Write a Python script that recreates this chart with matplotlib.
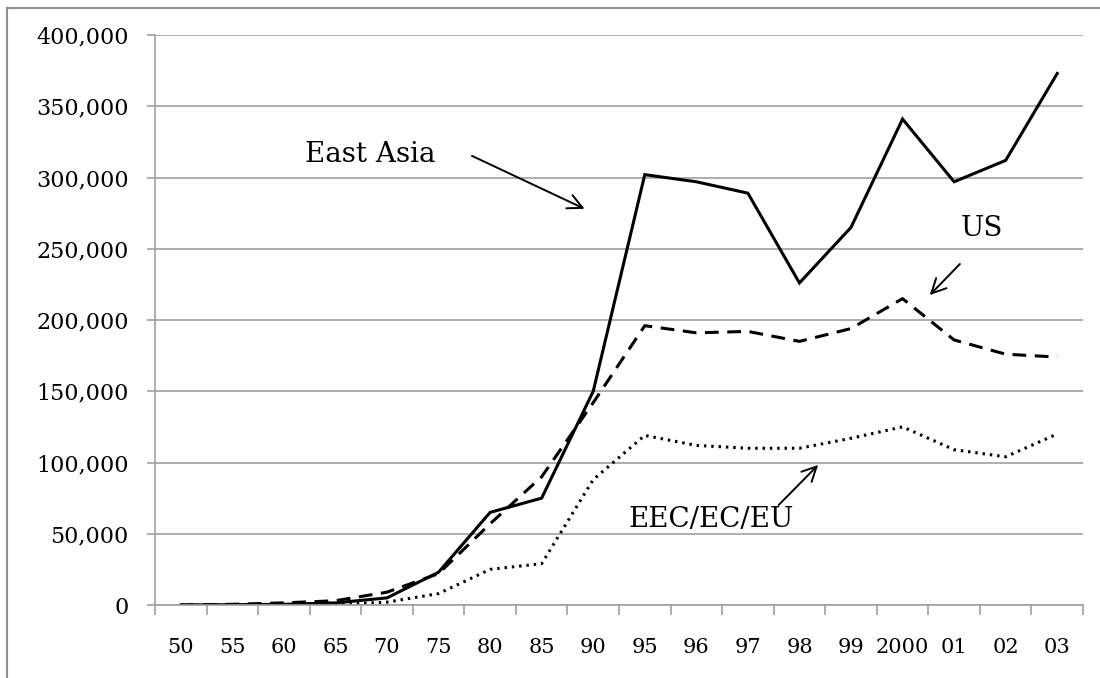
import matplotlib
matplotlib.use("Agg")
import matplotlib.pyplot as plt
from matplotlib.ticker import FuncFormatter, FixedLocator
from matplotlib.patches import Rectangle

categories = ["50", "55", "60", "65", "70", "75", "80", "85", "90", "95",
              "96", "97", "98", "99", "2000", "01", "02", "03"]
east_asia = [0, 200, 500, 1500, 5000, 23000, 65000, 75000, 150000, 302000,
             297000, 289000, 226000, 265000, 341000, 297000, 312000, 373000]
us = [0, 500, 1500, 3000, 9000, 22000, 57000, 90000, 142000, 196000,
      191000, 192000, 185000, 194000, 215000, 186000, 176000, 174000]
eu = [0, 0, 100, 500, 2000, 8000, 25000, 29000, 88000, 119000,
      112000, 110000, 110000, 117000, 125000, 109000, 104000, 120000]
yticks = [0, 50000, 100000, 150000, 200000, 250000, 300000, 350000, 400000]

plt.rcParams['font.family'] = ['DejaVu Serif']

fig = plt.figure(figsize=(11, 6.78), dpi=100)
W, H = 1100, 678
ax = fig.add_axes([155 / W, 1 - 605 / H, (1083 - 155) / W, (605 - 35) / H])

x = list(range(len(categories)))
ax.plot(x, east_asia, color='black', lw=2.2, solid_joinstyle='miter')
ax.plot(x, us, color='black', lw=2.2, ls=(0, (4.5, 2.8)))
ax.plot(x, eu, color='black', lw=2.2, ls=(0, (0.8, 1.6)))

ax.set_xlim(-0.5, len(categories) - 0.5)
ax.set_ylim(0, 400000)
ax.set_yticks(yticks)
ax.yaxis.set_major_formatter(FuncFormatter(lambda v, p: f"{int(v):,}"))
ax.yaxis.grid(True, color='#a0a0a0', lw=1.2)
ax.set_axisbelow(True)

ax.set_xticks(x)
ax.set_xticklabels(categories)
ax.xaxis.set_minor_locator(FixedLocator([i - 0.5 for i in range(len(categories) + 1)]))
ax.tick_params(axis='x', which='major', length=0, pad=24, labelsize=15)
ax.tick_params(axis='x', which='minor', length=7, direction='out', color='#a0a0a0', width=1.2)
ax.tick_params(axis='y', length=6, direction='out', color='#a0a0a0', width=1.2,
               labelsize=16, pad=13)

for s in ['top', 'right']:
    ax.spines[s].set_visible(False)
for s in ['left', 'bottom']:
    ax.spines[s].set_color('#a0a0a0')
    ax.spines[s].set_linewidth(1.2)

arrow = dict(arrowstyle='->', color='black', lw=1.4, mutation_scale=26)
ax.annotate("", xy=(7.88, 277200), xytext=(5.6, 316000), arrowprops=arrow)
ax.text(2.41, 315800, "East Asia", fontsize=20, va='center', ha='left')

ax.annotate("", xy=(14.49, 216100), xytext=(15.15, 240700), arrowprops=arrow)
ax.text(15.54, 264500, "US", fontsize=20, va='center', ha='center')

ax.annotate("", xy=(12.40, 99650), xytext=(11.56, 68800), arrowprops=arrow)
ax.text(10.28, 59650, "EEC/EC/EU", fontsize=20, va='center', ha='center')

fig.patches.append(Rectangle((7 / W, -0.1), 1.2, 1 - 8 / H + 0.1,
                             transform=fig.transFigure, fill=False,
                             edgecolor='#909090', lw=1.5))

fig.savefig("out.png", dpi=100)
